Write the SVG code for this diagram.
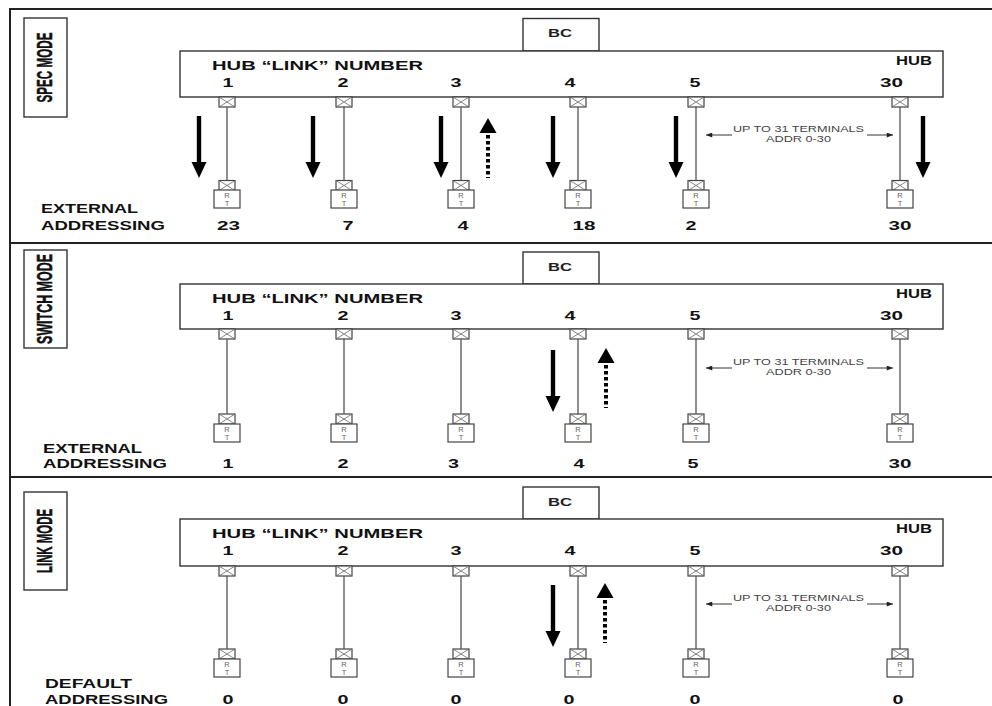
<svg xmlns="http://www.w3.org/2000/svg" xmlns:xlink="http://www.w3.org/1999/xlink" width="992" height="706" viewBox="0 0 992 706">
<style>
.frame{stroke:#222;stroke-width:2;fill:none}
.box{fill:#fff;stroke:#333;stroke-width:1.4}
.wire{stroke:#555;stroke-width:1.3;fill:none}
.b{font-family:"Liberation Sans",Arial,sans-serif;font-weight:bold;fill:#111;font-size:13.5px}
.bc{font-family:"Liberation Sans",Arial,sans-serif;font-weight:bold;fill:#222;font-size:11px}
.mode{font-family:"Liberation Sans",Arial,sans-serif;font-weight:bold;fill:#111;stroke:#111;stroke-width:0.5;font-size:22px;text-anchor:middle}
.note{font-family:"Liberation Sans",Arial,sans-serif;fill:#444;font-size:9.5px}
.rt{font-family:"Liberation Sans",Arial,sans-serif;fill:#666;font-size:7.5px;text-anchor:middle}
.dim{stroke:#333;stroke-width:1;fill:none}
</style>
<defs>
<g id="port"><rect x="-8" y="0" width="16" height="10" fill="#fff" stroke="#444" stroke-width="1.2"/><path d="M-8,0 L8,10 M8,0 L-8,10" stroke="#666" stroke-width="0.8"/></g>
<g id="rtbox"><rect x="-13" y="0" width="26" height="18" fill="#fff" stroke="#444" stroke-width="1.2"/><text class="rt" x="0" y="7.5">R</text><text class="rt" x="0" y="15.5">T</text></g>
<g id="down" fill="#000"><rect x="-2.2" y="0" width="4.4" height="47"/><polygon points="-7.5,46 7.5,46 0,62"/></g>
<g id="up"><polygon points="0,0 -8.5,15 8.5,15" fill="#000"/><line x1="0" y1="17" x2="0" y2="60" stroke="#000" stroke-width="4" stroke-dasharray="3.5 2.5"/></g>
<marker id="ah" viewBox="0 0 10 8" refX="10" refY="4" markerWidth="7" markerHeight="5" orient="auto-start-reverse" markerUnits="userSpaceOnUse"><path d="M0,0 L10,4 L0,8 z" fill="#222"/></marker>
</defs>
<rect width="992" height="706" fill="#fff"/>
<g id="frame">
<path class="frame" d="M10,706 V9 H992 M10,243 H992 M10,477 H992"/>
</g>

<!-- SECTION 1: SPEC MODE -->
<g id="spec-mode">
<g id="s1-label"><rect class="box" x="24" y="18" width="43" height="99"/><text class="mode" transform="translate(52,67.5) rotate(-90) scale(0.53,1)" x="0" y="0">SPEC MODE</text></g>
<g id="s1-bc"><rect class="box" x="523" y="18.5" width="76" height="32.5"/><text class="bc" x="548" y="37" textLength="24" lengthAdjust="spacingAndGlyphs">BC</text></g>
<g id="s1-hub"><rect class="box" x="180" y="51" width="763" height="46"/>
<text class="b" x="212" y="70" textLength="211" lengthAdjust="spacingAndGlyphs">HUB “LINK” NUMBER</text>
<text class="b" x="896" y="65" textLength="36" lengthAdjust="spacingAndGlyphs">HUB</text>
<text class="b" x="222.5" y="87" textLength="11" lengthAdjust="spacingAndGlyphs">1</text>
<text class="b" x="337.5" y="87" textLength="11" lengthAdjust="spacingAndGlyphs">2</text>
<text class="b" x="450.5" y="87" textLength="11" lengthAdjust="spacingAndGlyphs">3</text>
<text class="b" x="564.5" y="87" textLength="11" lengthAdjust="spacingAndGlyphs">4</text>
<text class="b" x="689.5" y="87" textLength="11" lengthAdjust="spacingAndGlyphs">5</text>
<text class="b" x="880" y="87" textLength="23" lengthAdjust="spacingAndGlyphs">30</text>
<use href="#port" x="227" y="97"/><use href="#port" x="344" y="97"/><use href="#port" x="461" y="97"/><use href="#port" x="578" y="97"/><use href="#port" x="696" y="97"/><use href="#port" x="900" y="97"/>
</g>
<g id="s1-rt1"><use href="#port" x="227" y="180.5"/><use href="#rtbox" x="227" y="190"/></g>
<g id="s1-rt2"><use href="#port" x="344" y="180.5"/><use href="#rtbox" x="344" y="190"/></g>
<g id="s1-rt3"><use href="#port" x="461" y="180.5"/><use href="#rtbox" x="461" y="190"/></g>
<g id="s1-rt4"><use href="#port" x="578" y="180.5"/><use href="#rtbox" x="578" y="190"/></g>
<g id="s1-rt5"><use href="#port" x="696" y="180.5"/><use href="#rtbox" x="696" y="190"/></g>
<g id="s1-rt30"><use href="#port" x="900" y="180.5"/><use href="#rtbox" x="900" y="190"/></g>
<g id="s1-connectors">
<path class="wire" d="M227,107 V180.5 M344,107 V180.5 M461,107 V180.5 M578,107 V180.5 M696,107 V180.5 M900,107 V180.5"/>
<use href="#down" x="199" y="116"/><use href="#down" x="313" y="116"/><use href="#down" x="441" y="116"/><use href="#down" x="553" y="116"/><use href="#down" x="676" y="116"/><use href="#down" x="923" y="116"/>
<use href="#up" x="488" y="118"/>
<line class="dim" x1="732" y1="135" x2="706" y2="135" marker-end="url(#ah)"/>
<line class="dim" x1="867" y1="135" x2="893" y2="135" marker-end="url(#ah)"/>
</g>
<text class="note" x="733" y="132" textLength="131" lengthAdjust="spacingAndGlyphs">UP TO 31 TERMINALS</text>
<text class="note" x="766" y="142" textLength="65" lengthAdjust="spacingAndGlyphs">ADDR 0-30</text>
<text class="b" x="41" y="213" textLength="97" lengthAdjust="spacingAndGlyphs">EXTERNAL</text>
<text class="b" x="41" y="230" textLength="124" lengthAdjust="spacingAndGlyphs">ADDRESSING</text>
<text class="b" x="217" y="230" textLength="23" lengthAdjust="spacingAndGlyphs">23</text>
<text class="b" x="342.5" y="230" textLength="11" lengthAdjust="spacingAndGlyphs">7</text>
<text class="b" x="457.5" y="230" textLength="11" lengthAdjust="spacingAndGlyphs">4</text>
<text class="b" x="572.5" y="230" textLength="23" lengthAdjust="spacingAndGlyphs">18</text>
<text class="b" x="685.5" y="230" textLength="11" lengthAdjust="spacingAndGlyphs">2</text>
<text class="b" x="888.5" y="230" textLength="23" lengthAdjust="spacingAndGlyphs">30</text>
</g>

<!-- SECTION 2: SWITCH MODE -->
<g id="switch-mode" transform="translate(0,233)">
<g id="s2-label"><rect class="box" x="24" y="17" width="43" height="98"/><text class="mode" transform="translate(52,66) rotate(-90) scale(0.566,1)" x="0" y="0">SWITCH MODE</text></g>
<g id="s2-bc"><rect class="box" x="523" y="19" width="76" height="32"/><text class="bc" x="548" y="38" textLength="24" lengthAdjust="spacingAndGlyphs">BC</text></g>
<g id="s2-hub"><rect class="box" x="180" y="51" width="763" height="45"/>
<text class="b" x="212" y="70" textLength="211" lengthAdjust="spacingAndGlyphs">HUB “LINK” NUMBER</text>
<text class="b" x="896" y="65" textLength="36" lengthAdjust="spacingAndGlyphs">HUB</text>
<text class="b" x="222.5" y="87" textLength="11" lengthAdjust="spacingAndGlyphs">1</text>
<text class="b" x="337.5" y="87" textLength="11" lengthAdjust="spacingAndGlyphs">2</text>
<text class="b" x="450.5" y="87" textLength="11" lengthAdjust="spacingAndGlyphs">3</text>
<text class="b" x="564.5" y="87" textLength="11" lengthAdjust="spacingAndGlyphs">4</text>
<text class="b" x="689.5" y="87" textLength="11" lengthAdjust="spacingAndGlyphs">5</text>
<text class="b" x="880" y="87" textLength="23" lengthAdjust="spacingAndGlyphs">30</text>
<use href="#port" x="227" y="96"/><use href="#port" x="344" y="96"/><use href="#port" x="461" y="96"/><use href="#port" x="578" y="96"/><use href="#port" x="696" y="96"/><use href="#port" x="900" y="96"/>
</g>
<g id="s2-rt1"><use href="#port" x="227" y="181"/><use href="#rtbox" x="227" y="191"/></g>
<g id="s2-rt2"><use href="#port" x="344" y="181"/><use href="#rtbox" x="344" y="191"/></g>
<g id="s2-rt3"><use href="#port" x="461" y="181"/><use href="#rtbox" x="461" y="191"/></g>
<g id="s2-rt4"><use href="#port" x="578" y="181"/><use href="#rtbox" x="578" y="191"/></g>
<g id="s2-rt5"><use href="#port" x="696" y="181"/><use href="#rtbox" x="696" y="191"/></g>
<g id="s2-rt30"><use href="#port" x="900" y="181"/><use href="#rtbox" x="900" y="191"/></g>
<g id="s2-connectors">
<path class="wire" d="M227,106 V181 M344,106 V181 M461,106 V181 M578,106 V181 M696,106 V181 M900,106 V181"/>
<use href="#down" x="553" y="117"/>
<use href="#up" x="606" y="115"/>
<line class="dim" x1="732" y1="135" x2="706" y2="135" marker-end="url(#ah)"/>
<line class="dim" x1="867" y1="135" x2="893" y2="135" marker-end="url(#ah)"/>
</g>
<text class="note" x="733" y="132" textLength="131" lengthAdjust="spacingAndGlyphs">UP TO 31 TERMINALS</text>
<text class="note" x="766" y="142" textLength="65" lengthAdjust="spacingAndGlyphs">ADDR 0-30</text>
<text class="b" x="43" y="220" textLength="99" lengthAdjust="spacingAndGlyphs">EXTERNAL</text>
<text class="b" x="43" y="235" textLength="124" lengthAdjust="spacingAndGlyphs">ADDRESSING</text>
<text class="b" x="222.5" y="235" textLength="11" lengthAdjust="spacingAndGlyphs">1</text>
<text class="b" x="337.5" y="235" textLength="11" lengthAdjust="spacingAndGlyphs">2</text>
<text class="b" x="448" y="235" textLength="11" lengthAdjust="spacingAndGlyphs">3</text>
<text class="b" x="573.5" y="235" textLength="11" lengthAdjust="spacingAndGlyphs">4</text>
<text class="b" x="687.5" y="235" textLength="11" lengthAdjust="spacingAndGlyphs">5</text>
<text class="b" x="888.5" y="235" textLength="23" lengthAdjust="spacingAndGlyphs">30</text>
</g>

<!-- SECTION 3: LINK MODE -->
<g id="link-mode" transform="translate(0,468)">
<g id="s3-label"><rect class="box" x="24" y="24" width="43" height="98"/><text class="mode" transform="translate(52,73) rotate(-90) scale(0.519,1)" x="0" y="0">LINK MODE</text></g>
<g id="s3-bc"><rect class="box" x="523" y="19" width="76" height="32"/><text class="bc" x="548" y="38" textLength="24" lengthAdjust="spacingAndGlyphs">BC</text></g>
<g id="s3-hub"><rect class="box" x="180" y="51" width="763" height="47"/>
<text class="b" x="212" y="70" textLength="211" lengthAdjust="spacingAndGlyphs">HUB “LINK” NUMBER</text>
<text class="b" x="896" y="65" textLength="36" lengthAdjust="spacingAndGlyphs">HUB</text>
<text class="b" x="222.5" y="87" textLength="11" lengthAdjust="spacingAndGlyphs">1</text>
<text class="b" x="337.5" y="87" textLength="11" lengthAdjust="spacingAndGlyphs">2</text>
<text class="b" x="450.5" y="87" textLength="11" lengthAdjust="spacingAndGlyphs">3</text>
<text class="b" x="564.5" y="87" textLength="11" lengthAdjust="spacingAndGlyphs">4</text>
<text class="b" x="689.5" y="87" textLength="11" lengthAdjust="spacingAndGlyphs">5</text>
<text class="b" x="880" y="87" textLength="23" lengthAdjust="spacingAndGlyphs">30</text>
<use href="#port" x="227" y="98"/><use href="#port" x="344" y="98"/><use href="#port" x="461" y="98"/><use href="#port" x="578" y="98"/><use href="#port" x="696" y="98"/><use href="#port" x="900" y="98"/>
</g>
<g id="s3-rt1"><use href="#port" x="227" y="181"/><use href="#rtbox" x="227" y="191"/></g>
<g id="s3-rt2"><use href="#port" x="344" y="181"/><use href="#rtbox" x="344" y="191"/></g>
<g id="s3-rt3"><use href="#port" x="461" y="181"/><use href="#rtbox" x="461" y="191"/></g>
<g id="s3-rt4"><use href="#port" x="578" y="181"/><use href="#rtbox" x="578" y="191"/></g>
<g id="s3-rt5"><use href="#port" x="696" y="181"/><use href="#rtbox" x="696" y="191"/></g>
<g id="s3-rt30"><use href="#port" x="900" y="181"/><use href="#rtbox" x="900" y="191"/></g>
<g id="s3-connectors">
<path class="wire" d="M227,108 V181 M344,108 V181 M461,108 V181 M578,108 V181 M696,108 V181 M900,108 V181"/>
<use href="#down" x="553" y="117"/>
<use href="#up" x="605" y="115"/>
<line class="dim" x1="732" y1="136" x2="706" y2="136" marker-end="url(#ah)"/>
<line class="dim" x1="867" y1="136" x2="893" y2="136" marker-end="url(#ah)"/>
</g>
<text class="note" x="733" y="133" textLength="131" lengthAdjust="spacingAndGlyphs">UP TO 31 TERMINALS</text>
<text class="note" x="766" y="143" textLength="65" lengthAdjust="spacingAndGlyphs">ADDR 0-30</text>
<text class="b" x="45" y="220" textLength="87" lengthAdjust="spacingAndGlyphs">DEFAULT</text>
<text class="b" x="45" y="236" textLength="123" lengthAdjust="spacingAndGlyphs">ADDRESSING</text>
<text class="b" x="222.5" y="236" textLength="11" lengthAdjust="spacingAndGlyphs">0</text>
<text class="b" x="337.5" y="236" textLength="11" lengthAdjust="spacingAndGlyphs">0</text>
<text class="b" x="450.5" y="236" textLength="11" lengthAdjust="spacingAndGlyphs">0</text>
<text class="b" x="563.5" y="236" textLength="11" lengthAdjust="spacingAndGlyphs">0</text>
<text class="b" x="689.5" y="236" textLength="11" lengthAdjust="spacingAndGlyphs">0</text>
<text class="b" x="892.5" y="236" textLength="11" lengthAdjust="spacingAndGlyphs">0</text>
</g>
</svg>
